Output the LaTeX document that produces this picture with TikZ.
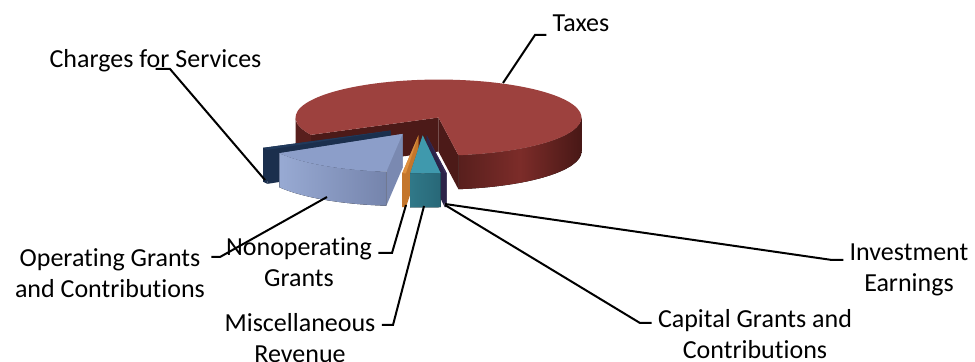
\documentclass[tikz,border=0pt]{standalone}
\usepackage{fontspec}
\setmainfont{Carlito}[Ligatures=NoCommon]
\usetikzlibrary{calc}

\definecolor{taxtop}{RGB}{157,65,62}
\definecolor{taxcut}{RGB}{76,26,24}
\definecolor{taxsidea}{RGB}{88,31,29}
\definecolor{taxsideb}{RGB}{124,44,41}
\definecolor{taxsidec}{RGB}{72,24,22}
\definecolor{chgtop}{RGB}{33,58,92}
\definecolor{chgside}{RGB}{27,47,77}
\definecolor{opgtop}{RGB}{140,158,201}
\definecolor{opgsidea}{RGB}{152,170,211}
\definecolor{opgsideb}{RGB}{117,132,172}
\definecolor{opgcut}{RGB}{122,137,177}
\definecolor{noptop}{RGB}{222,143,62}
\definecolor{nopside}{RGB}{196,118,44}
\definecolor{misctop}{RGB}{63,153,173}
\definecolor{miscsidea}{RGB}{48,120,136}
\definecolor{miscsideb}{RGB}{40,104,120}
\definecolor{captop}{RGB}{55,44,88}
\definecolor{capside}{RGB}{44,35,72}

\newcommand{\pieslice}[6]{%
  \pgfmathsetmacro{\pmid}{(#2+#3)/2}
  \coordinate (#1) at ({422+0.25*143*cos(\pmid)},{-126+0.25*38*sin(\pmid)});
  \fill[#6] (#1) -- ++({143*cos(#2)},{38*sin(#2)}) -- ++(0,-34) -- ($(#1)+(0,-34)$) -- cycle;
  \fill[#6] (#1) -- ++({143*cos(#3)},{38*sin(#3)}) -- ++(0,-34) -- ($(#1)+(0,-34)$) -- cycle;
  \fill[#5] ($(#1)+({143*cos(#2)},{38*sin(#2)})$) arc[start angle=#2, end angle=#3, x radius=143, y radius=38]
    -- ++(0,-34) arc[start angle=#3, end angle=#2, x radius=143, y radius=38] -- cycle;
  \fill[#4] (#1) -- ++({143*cos(#2)},{38*sin(#2)}) arc[start angle=#2, end angle=#3, x radius=143, y radius=38] -- cycle;
}

\begin{document}
\begin{tikzpicture}[x=0.5pt, y=0.5pt,
    lbl/.style={font=\fontsize{13}{15.5}\selectfont, align=center, inner sep=3pt},
    leader/.style={draw, line width=1pt}]
    \useasboundingbox (0,0) rectangle (975,-362);
    \coordinate (tax-sl) at ({422+0.25*143*cos(62.5)},{-126+0.25*38*sin(62.5)});
    \fill[taxcut] (tax-sl) -- ++({143*cos(278)},{38*sin(278)}) -- ++(0,-34) -- ($(tax-sl)+(0,-34)$) -- cycle;
    \fill[taxcut] (tax-sl) -- ++({143*cos(207)},{38*sin(207)}) -- ++(0,-34) -- ($(tax-sl)+(0,-34)$) -- cycle;
    \fill[left color=taxsidea, right color=taxsidec, middle color=taxsideb] ($(tax-sl)+({143*cos(278)},{38*sin(278)})$)
        arc[start angle=278, end angle=360, x radius=143, y radius=38] -- ++(0,-34)
        arc[start angle=360, end angle=278, x radius=143, y radius=38] -- cycle;
    \fill[taxsidea] ($(tax-sl)+(-143,0)$)
        arc[start angle=180, end angle=207, x radius=143, y radius=38] -- ++(0,-34)
        arc[start angle=207, end angle=180, x radius=143, y radius=38] -- cycle;
    \fill[taxtop] (tax-sl) -- ++({143*cos(278)},{38*sin(278)}) arc[start angle=278, end angle=567, x radius=143, y radius=38] -- cycle;
    \pieslice{chg-sl}{207}{210.5}{chgtop}{chgside}{chgside}
    \pieslice{opg-sl}{210.5}{263.5}{opgtop}{left color=opgsidea, right color=opgsideb}{opgcut}
    \pieslice{nop-sl}{263.5}{265}{noptop}{nopside}{nopside}
    \pieslice{cap-sl}{277.2}{278}{captop}{capside}{capside}
    \pieslice{misc-sl}{265}{277.2}{misctop}{left color=miscsidea, right color=miscsideb}{miscsideb}
    \node[lbl] (tax) at (581,-23) {Taxes};
    \node[lbl] (chg) at (155.5,-61) {Charges for Services};
    \node[lbl] (opg) at (110,-273) {Operating Grants\\and Contributions};
    \node[lbl] (nop) at (299,-262) {Nonoperating\\Grants};
    \node[lbl] (misc) at (300,-338) {Miscellaneous\\Revenue};
    \node[lbl] (cap) at (755,-334) {Capital Grants and\\Contributions};
    \node[lbl] (inv) at (909,-270) {Investment\\Earnings};
    \coordinate (tax-pt) at (503,-83);
    \coordinate (tax-knee) at (535,-35);
    \coordinate (chg-pt) at (265,-180);
    \coordinate (chg-knee) at (170,-69);
    \coordinate (opg-pt) at (327,-197);
    \coordinate (opg-knee) at (220,-257);
    \coordinate (nop-pt) at (406,-205);
    \coordinate (nop-knee) at (392,-253);
    \coordinate (misc-pt) at (424,-206);
    \coordinate (misc-knee) at (393,-325);
    \coordinate (cap-pt) at (445,-205);
    \coordinate (cap-knee) at (640,-323);
    \coordinate (inv-pt) at (445,-204);
    \coordinate (inv-knee) at (832,-260);
    \draw[leader] (tax-pt) -- (tax-knee) -- (tax-knee -| tax.west);
    \draw[leader] (chg-pt) -- (chg-knee) -- (chg-knee -| chg.south);
    \draw[leader] (opg-pt) -- (opg-knee) -- (opg-knee -| opg.east);
    \draw[leader] (nop-pt) -- (nop-knee) -- (nop-knee -| nop.east);
    \draw[leader] (misc-pt) -- (misc-knee) -- (misc-knee -| misc.east);
    \draw[leader] (cap-pt) -- (cap-knee) -- (cap-knee -| cap.west);
    \draw[leader] (inv-pt) -- (inv-knee) -- (inv-knee -| inv.west);
\end{tikzpicture}
\end{document}
